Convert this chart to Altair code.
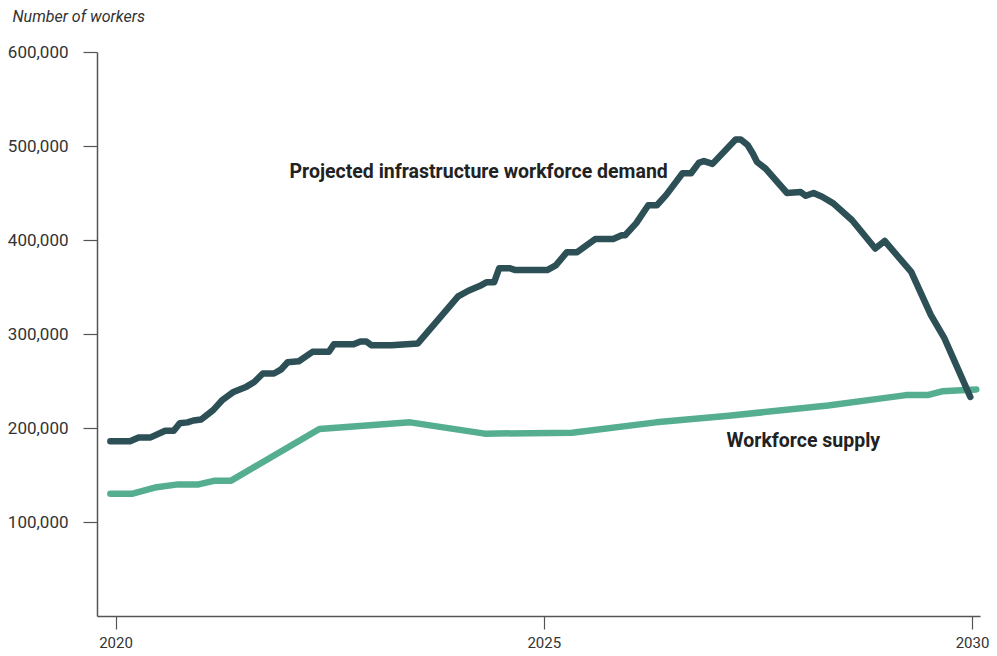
import altair as alt
import pandas as pd

demand_year = [2019.94, 2020.17, 2020.27, 2020.41, 2020.58, 2020.68, 2020.75, 2020.84, 2020.91, 2021.00,
               2021.14, 2021.25, 2021.37, 2021.53, 2021.62, 2021.72, 2021.85, 2021.93, 2022.01, 2022.14,
               2022.30, 2022.49, 2022.55, 2022.78, 2022.86, 2022.93, 2022.99, 2023.22, 2023.53, 2024.00,
               2024.12, 2024.25, 2024.33, 2024.42, 2024.48, 2024.60, 2024.67, 2025.04, 2025.14, 2025.27,
               2025.39, 2025.60, 2025.81, 2025.91, 2025.95, 2026.08, 2026.22, 2026.32, 2026.43, 2026.62,
               2026.72, 2026.81, 2026.87, 2026.97, 2027.24, 2027.30, 2027.38, 2027.44, 2027.49, 2027.59,
               2027.84, 2028.00, 2028.06, 2028.15, 2028.25, 2028.38, 2028.60, 2028.87, 2028.98, 2029.29,
               2029.52, 2029.68, 2029.83, 2029.98]
demand_value = [186000, 186000, 190000, 190000, 197000, 197000, 205000, 206000, 208000, 209000,
                219000, 230000, 238000, 244000, 249000, 258000, 258000, 262000, 270000, 271000,
                281000, 281000, 289000, 289000, 292000, 292000, 288000, 288000, 290000, 340000,
                346000, 351000, 355000, 355000, 370000, 370000, 368000, 368000, 373000, 387000,
                387000, 401000, 401000, 405000, 405000, 418000, 437000, 437000, 448000, 471000,
                471000, 482000, 484000, 481000, 507000, 507000, 501000, 492000, 483000, 476000,
                450000, 451000, 447000, 450000, 446000, 439000, 421000, 391000, 399000, 366000,
                320000, 295000, 264000, 233000]

supply_year = [2019.94, 2020.19, 2020.48, 2020.73, 2020.97, 2021.16, 2021.35, 2022.38, 2023.44, 2024.31,
               2025.33, 2026.31, 2027.16, 2028.32, 2028.90, 2029.23, 2029.48, 2029.65, 2030.05]
supply_value = [130000, 130000, 137000, 140000, 140000, 144000, 144000, 199000, 206000, 194000,
                195000, 206000, 213000, 224000, 231000, 235000, 235000, 239000, 241000]

label_text = ["Projected infrastructure workforce demand", "Workforce supply"]
label_year = [2024.24, 2028.03]
label_value = [472000, 186000]

y_ticks = [100000, 200000, 300000, 400000, 500000, 600000]
x_ticks = [2020, 2025, 2030]

demand_df = pd.DataFrame({"year": demand_year, "value": demand_value})
supply_df = pd.DataFrame({"year": supply_year, "value": supply_value})
label_df = pd.DataFrame({"year": label_year, "value": label_value, "text": label_text})

FONT = "Roboto"

x_enc = alt.X(
    "year:Q",
    scale=alt.Scale(domain=[2019.784, 2030.093], nice=False, zero=False),
    axis=alt.Axis(
        values=x_ticks, format="d", title=None, grid=False,
        tickSize=13, labelPadding=6, labelFont=FONT, labelFontSize=15,
        labelColor="#333333", domainColor="#555555", tickColor="#555555",
        domainWidth=1.5, tickWidth=1.2,
    ),
)
y_enc = alt.Y(
    "value:Q",
    scale=alt.Scale(domain=[0, 600000], nice=False),
    axis=alt.Axis(
        values=y_ticks, format=",d", grid=False,
        title="Number of workers", titleAngle=0, titleX=-85, titleY=-31,
        titleAlign="left", titleBaseline="alphabetic", titleFont=FONT,
        titleFontStyle="italic", titleFontWeight="normal", titleFontSize=16,
        titleColor="#333333",
        tickSize=14, labelPadding=15, labelFont=FONT, labelFontSize=17,
        labelColor="#333333", domainColor="#555555", tickColor="#555555",
        domainWidth=1.5, tickWidth=1.2,
    ),
)

supply = alt.Chart(supply_df).mark_line(
    color="#56ae91", strokeWidth=6.5, strokeCap="round", strokeJoin="round"
).encode(x=x_enc, y=y_enc)

demand = alt.Chart(demand_df).mark_line(
    color="#2d4f56", strokeWidth=6.5, strokeCap="round", strokeJoin="round"
).encode(x="year:Q", y="value:Q")

labels = alt.Chart(label_df).mark_text(
    font=FONT, fontWeight="bold", fontSize=19.5, color="#222222",
    align="center", baseline="middle"
).encode(x="year:Q", y="value:Q", text="text:N")

chart = alt.layer(supply, demand, labels).properties(
    width=883, height=564,
    padding={"left": 89, "top": 44, "right": 9, "bottom": 36},
    autosize=alt.AutoSizeParams(type="none"),
).configure(background="white").configure_view(stroke=None)

chart.save("out.html", embed_options={"renderer": "svg", "actions": False})
